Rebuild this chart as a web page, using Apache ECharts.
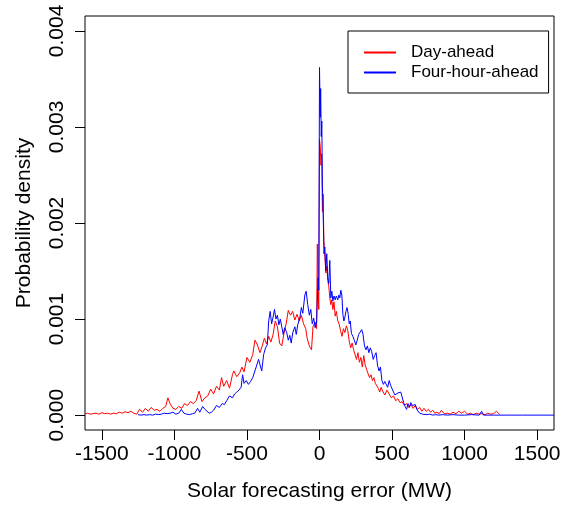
<!DOCTYPE html>
<html>
<head>
<meta charset="utf-8">
<script src="https://cdn.jsdelivr.net/npm/echarts@6/dist/echarts.min.js"></script>
<style>
html,body{margin:0;padding:0;background:#fff;}
#chart{width:568px;height:507px;}
</style>
</head>
<body>
<div id="chart"></div>
<script>
// Day-ahead forecasting error (MW) and probability density (in units of 0.001)
const dayAheadError = [-1616,-1600,-1580,-1560,-1540,-1520,-1500,-1480,-1460,-1440,-1420,-1400,-1380,-1360,-1340,-1320,-1300,-1280,-1260,-1240,-1220,-1200,-1180,-1160,-1140,-1120,-1100,-1080,-1060,-1045,-1030,-1010,-990,-970,-950,-930,-910,-890,-870,-850,-830,-810,-790,-770,-750,-730,-710,-690,-675,-660,-640,-620,-600,-590,-570,-550,-535,-520,-500,-480,-460,-445,-430,-410,-395,-380,-365,-350,-335,-320,-305,-290,-275,-260,-245,-230,-215,-200,-185,-170,-155,-140,-125,-110,-95,-85,-70,-55,-45,-30,-20,-15,-10,-5,0,5,10,15,20,25,30,37,44,50,57,64,71,78,85,92,100,108,116,126,135,145,155,165,175,185,195,205,215,225,235,245,255,265,275,285,295,305,315,325,335,345,355,365,375,385,395,405,415,425,435,450,465,480,495,510,525,540,555,570,585,600,615,630,645,660,675,690,705,720,735,750,765,780,795,810,825,840,860,880,900,920,940,960,980,1000,1020,1040,1060,1080,1100,1120,1140,1160,1180,1200,1220,1240];
const dayAheadDensity = [0.01,0.02,0.01,0.015,0.02,0.01,0.025,0.015,0.02,0.01,0.02,0.015,0.03,0.02,0.035,0.025,0.04,0.02,0.01,0.06,0.03,0.07,0.04,0.08,0.05,0.06,0.04,0.07,0.09,0.18,0.12,0.07,0.06,0.09,0.07,0.12,0.1,0.14,0.12,0.15,0.25,0.14,0.18,0.2,0.27,0.22,0.3,0.26,0.39,0.3,0.36,0.28,0.42,0.46,0.4,0.44,0.5,0.45,0.6,0.55,0.63,0.78,0.74,0.65,0.72,0.8,0.74,0.82,0.76,0.84,0.98,0.92,0.75,0.72,0.85,0.95,1.09,1.04,1.08,0.99,1.05,0.98,1.04,0.95,0.9,0.8,0.72,0.68,0.92,0.97,0.9,1.78,1.4,1.1,2.87,2.8,2.6,2.72,2.12,2.3,1.82,1.65,1.48,1.55,1.4,1.34,1.22,1.15,1.2,1.1,1.18,1.03,1.08,0.98,0.95,0.88,0.82,0.9,0.86,0.93,0.88,0.77,0.7,0.75,0.68,0.7,0.58,0.65,0.55,0.6,0.5,0.62,0.52,0.5,0.43,0.39,0.42,0.36,0.39,0.33,0.35,0.28,0.24,0.29,0.25,0.21,0.26,0.22,0.18,0.2,0.15,0.17,0.13,0.14,0.1,0.12,0.08,0.11,0.07,0.1,0.06,0.08,0.04,0.07,0.04,0.06,0.03,0.05,0.02,0.03,0.015,0.05,0.015,0.02,0.01,0.03,0.015,0.04,0.02,0.04,0.01,0.02,0.005,0.02,0.01,0.015,0.005,0.02,0.01,0.015,0.04,0.01];

// Four-hour-ahead forecasting error (MW) and probability density (in units of 0.001)
const fourHourError = [-1250,-1230,-1210,-1190,-1170,-1150,-1130,-1110,-1090,-1070,-1050,-1030,-1010,-990,-970,-952,-935,-915,-895,-875,-860,-840,-825,-805,-790,-777,-760,-745,-730,-710,-690,-670,-655,-640,-620,-600,-585,-570,-555,-540,-530,-520,-505,-490,-475,-460,-445,-432,-420,-410,-398,-385,-372,-360,-350,-340,-330,-320,-310,-300,-290,-280,-270,-260,-250,-240,-226,-215,-205,-195,-184,-170,-160,-150,-136,-125,-115,-101,-92,-81,-70,-60,-50,-40,-30,-20,-10,-5,0,5,8,12,16,20,25,31,37,43,50,57,64,71,78,85,92,100,108,116,126,133,140,147,154,161,168,175,182,190,198,205,212,220,230,240,250,260,270,280,291,300,310,320,330,340,350,360,370,380,390,400,410,420,430,440,450,460,470,480,490,500,510,520,530,540,550,560,570,580,590,600,610,620,630,640,650,660,670,680,690,700,710,720,740,760,780,800,820,850,880,920,960,1000,1050,1100,1117,1130,1200,1300,1400,1500,1616];
const fourHourDensity = [0.005,0,0.005,0,0.005,0,0.01,0.005,0.01,0.02,0.015,0.02,0.03,0.01,0.02,0.06,0.02,0.01,0.005,0.015,0.02,0.07,0.03,0.09,0.06,0.05,0.02,0.03,0.05,0.1,0.08,0.12,0.11,0.15,0.2,0.18,0.22,0.24,0.26,0.29,0.42,0.33,0.36,0.32,0.35,0.39,0.46,0.44,0.58,0.6,0.46,0.63,0.7,0.73,0.98,1.08,0.95,1.02,1.1,1.0,1.04,0.94,1.0,0.92,0.84,0.91,0.86,0.78,0.83,0.75,0.86,0.92,0.84,0.94,1.01,1.12,1.06,1.25,1.29,1.15,1.04,1.1,0.95,1.01,0.91,0.97,1.43,1.3,3.62,3.1,3.4,2.9,3.06,2.4,2.1,1.68,1.75,1.5,1.68,1.43,1.37,1.61,1.22,1.29,1.19,1.24,1.2,1.24,1.2,1.25,1.22,1.3,1.25,1.05,0.98,1.02,1.08,1.12,1.05,0.95,0.98,0.85,0.82,0.78,0.73,0.78,0.84,0.82,0.89,0.84,0.72,0.68,0.72,0.65,0.7,0.66,0.58,0.62,0.65,0.52,0.46,0.5,0.36,0.32,0.35,0.34,0.29,0.36,0.31,0.33,0.24,0.21,0.19,0.23,0.21,0.24,0.22,0.13,0.09,0.06,0.12,0.08,0.13,0.1,0.12,0.11,0.06,0.05,0.02,0.03,0.01,0.02,0.005,0.01,0,0.005,0,0.005,0,0.005,0,0,0.005,0,0.04,0,0,0,0,0,0];

const seriesNames = ['Day-ahead', 'Four-hour-ahead'];
const xTickValues = [-1500, -1000, -500, 0, 500, 1000, 1500];
const yTickValues = [0, 0.001, 0.002, 0.003, 0.004];

const toPairs = (xs, ys) => xs.map((x, i) => [x, ys[i] / 1000]);

const FONT = 'Liberation Sans, Arial, sans-serif';
const chart = echarts.init(document.getElementById('chart'), null, {renderer: 'canvas'});
chart.setOption({
  animation: false,
  backgroundColor: '#fff',
  textStyle: {fontFamily: FONT},
  grid: {left: 85, top: 16, width: 469, height: 417, show: true, borderColor: '#000', borderWidth: 1, backgroundColor: 'transparent'},
  legend: {
    data: seriesNames,
    orient: 'vertical',
    left: 348, top: 31,
    padding: [13, 10, 12, 16],
    itemGap: 3,
    itemWidth: 32, itemHeight: 2,
    icon: 'rect',
    borderColor: '#000', borderWidth: 1,
    backgroundColor: '#fff',
    textStyle: {fontFamily: FONT, fontSize: 17, color: '#000', padding: [0, 0, 0, 10]}
  },
  xAxis: {
    type: 'value', min: -1616, max: 1616,
    name: 'Solar forecasting error (MW)', nameLocation: 'middle', nameGap: 51,
    nameTextStyle: {fontFamily: FONT, fontSize: 21, color: '#000'},
    axisLine: {show: false, onZero: false},
    axisTick: {show: true, length: 10, inside: false, customValues: xTickValues, lineStyle: {color: '#000'}},
    axisLabel: {customValues: xTickValues, fontFamily: FONT, fontSize: 21, color: '#000', margin: 14,
      formatter: v => String(v)},
    splitLine: {show: false}
  },
  yAxis: {
    type: 'value', min: -0.000155, max: 0.004155,
    name: 'Probability density', nameLocation: 'middle', nameGap: 50, nameRotate: 90,
    nameTextStyle: {fontFamily: FONT, fontSize: 21, color: '#000'},
    axisLine: {show: false, onZero: false},
    axisTick: {show: true, length: 10, inside: false, customValues: yTickValues, lineStyle: {color: '#000'}},
    axisLabel: {customValues: yTickValues, rotate: 90, fontFamily: FONT, fontSize: 21, color: '#000', margin: 17,
      formatter: v => v.toFixed(3)},
    splitLine: {show: false}
  },
  series: [
    {name: seriesNames[0], type: 'line', data: toPairs(dayAheadError, dayAheadDensity), showSymbol: false, symbol: 'none',
     lineStyle: {color: '#ff0000', width: 1}, itemStyle: {color: '#ff0000'}, z: 2},
    {name: seriesNames[1], type: 'line', data: toPairs(fourHourError, fourHourDensity), showSymbol: false, symbol: 'none',
     lineStyle: {color: '#0000ff', width: 1}, itemStyle: {color: '#0000ff'}, z: 3}
  ]
});
</script>
</body>
</html>
